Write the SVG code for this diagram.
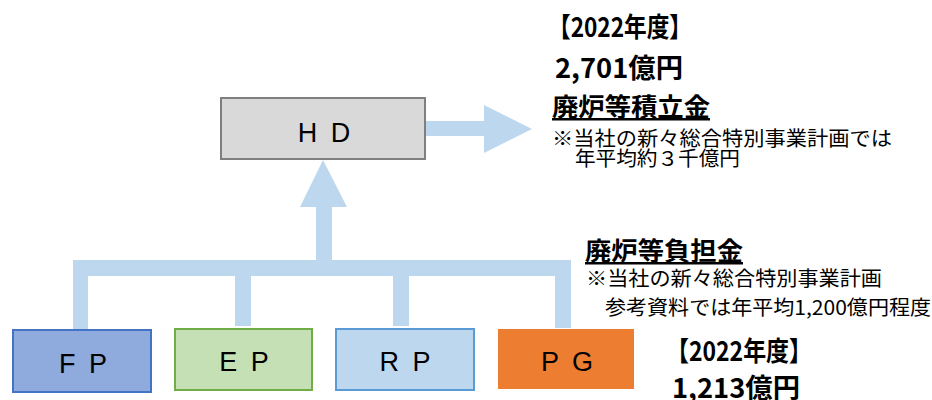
<svg xmlns="http://www.w3.org/2000/svg" width="932" height="400" viewBox="0 0 932 400">
<style>
.conn{fill:#bdd7ee;stroke:none}
.lbl{font-family:"Liberation Sans",Arial,sans-serif;font-size:27px;fill:#000;text-anchor:middle;word-spacing:6px}
.jp{font-family:"Noto Sans CJK JP",sans-serif;fill:#000}
.big{font-size:27px;font-weight:bold}
.head{font-size:25px;font-weight:bold;text-decoration:underline}
.note{font-size:20px}
</style>
<rect width="932" height="400" fill="#fff"/>
<g id="connectors">
<rect class="conn" x="73" y="260" width="498" height="16"/>
<rect class="conn" x="73" y="260" width="15" height="70"/>
<rect class="conn" x="235" y="260" width="16" height="66"/>
<rect class="conn" x="393" y="260" width="16" height="66"/>
<rect class="conn" x="555" y="260" width="16" height="68"/>
<polygon class="conn" points="316,262 316,207 300,207 323,160 347,207 332,207 332,262"/>
<polygon class="conn" points="426,121 484,121 484,105 532,129 484,153 484,136 426,136"/>
</g>
<g id="HD">
<rect x="221" y="98" width="204" height="61" fill="#d9d9d9" stroke="#7f7f7f" stroke-width="2"/>
<text class="lbl" x="324" y="142">H D</text>
</g>
<g id="FP">
<rect x="13" y="330" width="138" height="62" fill="#8faadc" stroke="#4472c4" stroke-width="2"/>
<text class="lbl" x="83" y="373">F P</text>
</g>
<g id="EP">
<rect x="175" y="329" width="137" height="61" fill="#c5e0b4" stroke="#70ad47" stroke-width="2"/>
<text class="lbl" x="244" y="371">E P</text>
</g>
<g id="RP">
<rect x="336" y="329" width="138" height="61" fill="#bdd7ee" stroke="#5b9bd5" stroke-width="2"/>
<text class="lbl" x="405" y="371">R P</text>
</g>
<g id="PG">
<rect x="498" y="329" width="136" height="60" fill="#ed7d31"/>
<text class="lbl" x="567" y="371">P G</text>
</g>
<g id="hd-notes">
<text class="jp big" x="548" y="37" textLength="144" lengthAdjust="spacingAndGlyphs">【2022年度】</text>
<text class="jp big" x="555" y="78" textLength="128" lengthAdjust="spacingAndGlyphs">2,701億円</text>
<text class="jp head" x="552" y="116" textLength="158" lengthAdjust="spacingAndGlyphs">廃炉等積立金</text>
<text class="jp note" x="552" y="146" textLength="340" lengthAdjust="spacingAndGlyphs">※当社の新々総合特別事業計画では</text>
<text class="jp note" x="575" y="166" textLength="165" lengthAdjust="spacingAndGlyphs">年平均約３千億円</text>
</g>
<g id="pg-notes">
<text class="jp head" x="585" y="260" textLength="158" lengthAdjust="spacingAndGlyphs">廃炉等負担金</text>
<text class="jp note" x="586" y="286" textLength="296" lengthAdjust="spacingAndGlyphs">※当社の新々総合特別事業計画</text>
<text class="jp note" x="605" y="315" textLength="326" lengthAdjust="spacingAndGlyphs">参考資料では年平均1,200億円程度</text>
<text class="jp big" x="666" y="361" textLength="146" lengthAdjust="spacingAndGlyphs">【2022年度】</text>
<text class="jp big" x="672" y="398" textLength="128" lengthAdjust="spacingAndGlyphs">1,213億円</text>
</g>
</svg>
